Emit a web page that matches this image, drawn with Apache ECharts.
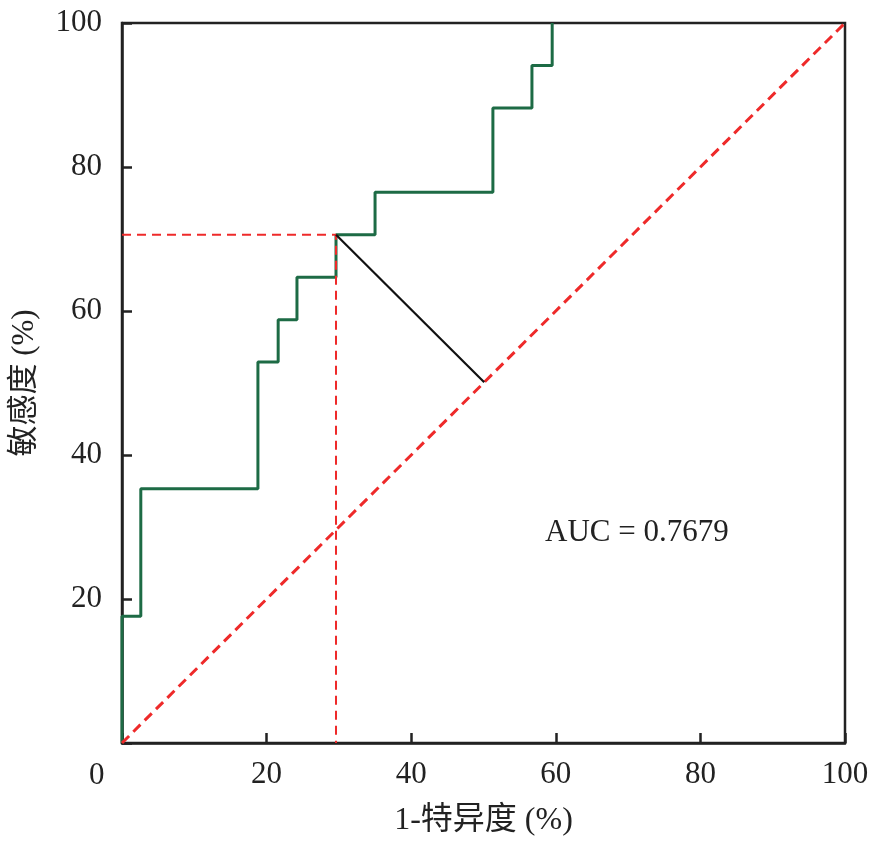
<!DOCTYPE html>
<html>
<head>
<meta charset="utf-8">
<script src="https://cdn.jsdelivr.net/npm/echarts@6/dist/echarts.min.js"></script>
<style>
    html, body { margin: 0; padding: 0; background: #fff; }
    #roc { width: 878px; height: 847px; }
</style>
</head>
<body>
<div id="roc"></div>
<script>
// ROC 曲线拐点 (1-特异度, 敏感度)
var rocFpr = [0, 0, 2.6, 18.8, 21.6, 24.2, 29.6, 35.0, 51.3, 56.7, 59.5];
var rocTpr = [0, 17.6, 35.3, 52.9, 58.8, 64.7, 70.6, 76.5, 88.2, 94.1, 100];
// 截断点和参考线
var cutFpr = 29.6, cutTpr = 70.6;
var footPoint = [50.1, 50.1];
var refLine = [[0, 0], [100, 100]];
var tickValues = [0, 20, 40, 60, 80, 100];
var aucText = 'AUC = 0.7679';

(function () {
    var myChart = echarts.init(document.getElementById('roc'));
    var font = "'Liberation Serif', 'Noto Sans CJK SC', serif";
    var rocData = rocFpr.map(function (x, i) { return [x, rocTpr[i]]; });

    var option = {
        animation: false,
        grid: {
            left: 122,
            right: 33,
            top: 23,
            bottom: 104,
            show: true,
            borderColor: '#222',
            borderWidth: 2.5
        },
        xAxis: {
            type: 'value',
            min: tickValues[0],
            max: tickValues[tickValues.length - 1],
            interval: 20,
            name: '1-特异度 (%)',
            nameLocation: 'middle',
            nameGap: 62,
            nameTextStyle: { fontFamily: font, fontSize: 32, color: '#222' },
            axisLine: { lineStyle: { color: '#222', width: 2.5 } },
            axisTick: { inside: true, length: 10, lineStyle: { color: '#222', width: 2.5 } },
            axisLabel: {
                margin: 16,
                fontFamily: font,
                fontSize: 31,
                color: '#222',
                formatter: function (v) { return v === 0 ? '' : v; }
            },
            splitLine: { show: false }
        },
        yAxis: {
            type: 'value',
            min: tickValues[0],
            max: tickValues[tickValues.length - 1],
            interval: 20,
            name: '敏感度 (%)',
            nameLocation: 'middle',
            nameGap: 82,
            nameTextStyle: { fontFamily: font, fontSize: 31, color: '#222' },
            axisLine: { lineStyle: { color: '#222', width: 2.5 } },
            axisTick: { inside: true, length: 10, lineStyle: { color: '#222', width: 2.5 } },
            axisLabel: {
                margin: 20,
                fontFamily: font,
                fontSize: 31,
                color: '#222',
                formatter: function (v) { return v === 0 ? '' : v; }
            },
            splitLine: { show: false }
        },
        graphic: [
            {
                type: 'text',
                left: 89,
                top: 760,
                style: { text: '0', font: '31px ' + font, fill: '#222' }
            },
            {
                type: 'text',
                left: 545,
                top: 517,
                style: { text: aucText, font: '31px ' + font, fill: '#222' }
            }
        ],
        series: [
            {
                name: 'ROC',
                type: 'line',
                step: 'end',
                data: rocData,
                symbol: 'none',
                lineStyle: { color: '#1d6b45', width: 3 },
                z: 2
            },
            {
                name: '参考线',
                type: 'line',
                data: refLine,
                symbol: 'none',
                lineStyle: { color: '#ee2a2a', width: 3, type: [10, 6] },
                z: 3
            },
            {
                name: '截断',
                type: 'line',
                data: [[0, cutTpr], [cutFpr, cutTpr], [cutFpr, 0]],
                symbol: 'none',
                lineStyle: { color: '#ee2a2a', width: 2, type: [9, 6] },
                z: 3
            },
            {
                name: '距离',
                type: 'line',
                data: [[cutFpr, cutTpr], footPoint],
                symbol: 'none',
                lineStyle: { color: '#111', width: 2.2 },
                z: 4
            }
        ]
    };

    myChart.setOption(option);
    window.addEventListener("resize", function () {
        myChart.resize();
    });
})();
</script>
</body>
</html>
